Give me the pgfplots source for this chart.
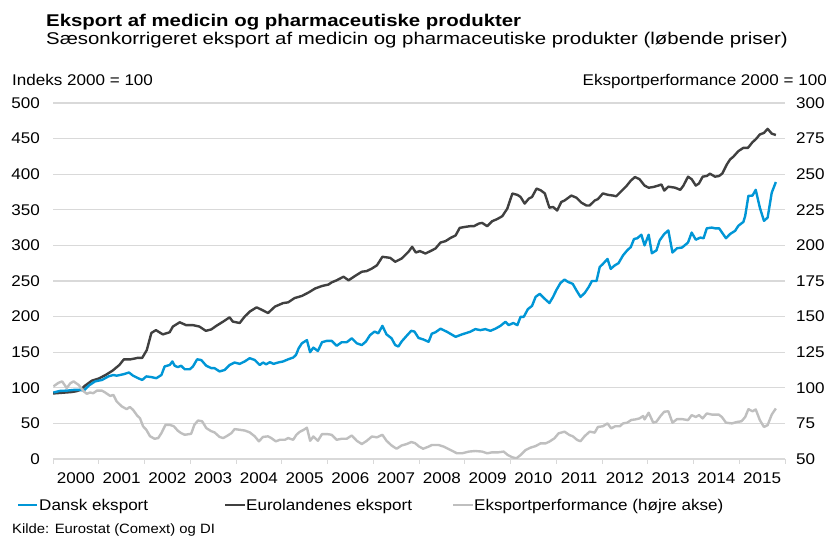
\documentclass[border=0pt]{standalone}
\usepackage{fontspec}
\setmainfont{Liberation Sans}[FakeStretch=1.1]
\newfontfamily\widefont{Liberation Sans}[FakeStretch=1.2]
\usepackage{pgfplots}
\pgfplotsset{compat=1.18}

\definecolor{dkblue}{RGB}{0,150,214}
\definecolor{dkblack}{RGB}{64,64,64}
\definecolor{dkgray}{RGB}{191,191,191}
\definecolor{gridc}{RGB}{217,217,217}

\newcommand{\tickfont}{\fontsize{15.5}{17}\selectfont}

\begin{document}
\begin{tikzpicture}[x=1pt,y=1pt]
\path[use as bounding box] (0,0) rectangle (830,537);

% titles
\node[anchor=base west,inner sep=0pt,font=\widefont\fontsize{17}{20}\selectfont\bfseries] at (46,510) {Eksport af medicin og pharmaceutiske produkter};
\node[anchor=base west,inner sep=0pt,font=\widefont\fontsize{17}{20}\selectfont] at (46,492.7) {Sæsonkorrigeret eksport af medicin og pharmaceutiske produkter (løbende priser)};
\node[anchor=base west,inner sep=0pt,font=\tickfont] at (12,451) {Indeks 2000 = 100};
\node[anchor=base east,inner sep=0pt,font=\tickfont] at (827,451) {Eksportperformance 2000 = 100};

\begin{axis}[
    at={(53pt,78pt)}, anchor=south west,
    width=732pt, height=356pt, scale only axis,
    xmin=2000, xmax=2016, ymin=0, ymax=500,
    ytick={0,50,...,500},
    xtick={2000.5,2001.5,2002.5,2003.5,2004.5,2005.5,2006.5,2007.5,2008.5,2009.5,2010.5,2011.5,2012.5,2013.5,2014.5,2015.5},
    xticklabels={2000,2001,2002,2003,2004,2005,2006,2007,2008,2009,2010,2011,2012,2013,2014,2015},
    minor xtick={2000,2001,...,2016},
    axis x line*=bottom, axis y line*=left,
    x axis line style={-,draw=gridc,line width=1.2pt},
    y axis line style={draw=none},
    major tick length=0pt, minor tick length=5pt, tick align=outside,
    minor tick style={draw=gridc,line width=1pt},
    ymajorgrids, major grid style={draw=gridc,line width=1.2pt},
    /pgf/number format/assume math mode=true,
    ticklabel style={font=\tickfont,inner sep=0pt},
    yticklabel style={anchor=east,xshift=-13pt},
    xticklabel style={anchor=north,yshift=-13pt},
    line join=round,
]
\addplot[dkblack,line width=2.4pt] coordinates {
(2000.00,92) (2000.20,93) (2000.40,94) (2000.50,95) (2000.60,97) (2000.70,103) (2000.85,110)
(2001.00,113) (2001.15,118) (2001.30,124) (2001.45,132) (2001.55,140) (2001.70,140) (2001.85,142) (2001.95,142)
(2002.05,153) (2002.15,177) (2002.25,181) (2002.40,175) (2002.55,178) (2002.62,186) (2002.77,192) (2002.91,188)
(2003.06,188) (2003.20,186) (2003.34,180) (2003.46,182) (2003.57,187) (2003.72,193) (2003.86,199) (2003.93,193)
(2004.08,191) (2004.19,200) (2004.30,207) (2004.45,213) (2004.58,209) (2004.70,205) (2004.85,214)
(2005.03,219) (2005.14,220) (2005.28,226) (2005.44,229) (2005.59,234) (2005.73,239.5) (2005.88,243)
(2006.02,245) (2006.09,248) (2006.20,251) (2006.35,256) (2006.46,251) (2006.60,257) (2006.75,263) (2006.86,264) (2006.97,267.5)
(2007.08,272) (2007.20,284) (2007.37,282.5) (2007.48,277) (2007.62,281.5) (2007.77,291) (2007.85,298) (2007.93,290)
(2008.02,292) (2008.14,288.6) (2008.25,292) (2008.36,295.6) (2008.47,304) (2008.58,306) (2008.69,310.5) (2008.80,314) (2008.89,324.6)
(2009.01,326) (2009.12,327) (2009.20,327) (2009.31,330.7) (2009.38,331.6) (2009.49,327) (2009.60,334) (2009.71,337) (2009.82,341) (2009.93,351.7)
(2010.04,372.8) (2010.15,371) (2010.22,368) (2010.31,358.7) (2010.40,365.7) (2010.47,368) (2010.57,379.8) (2010.66,377.4) (2010.75,373) (2010.85,353) (2010.93,354)
(2011.02,349) (2011.11,361) (2011.18,363) (2011.33,370) (2011.44,367) (2011.55,360) (2011.66,356) (2011.73,356) (2011.84,363) (2011.91,365)
(2012.02,373) (2012.13,371) (2012.24,370) (2012.31,369) (2012.42,376) (2012.53,383) (2012.63,391) (2012.72,396) (2012.82,393) (2012.93,384)
(2013.02,381) (2013.12,382) (2013.23,384) (2013.30,385.5) (2013.36,377) (2013.45,382.5) (2013.60,381) (2013.71,378) (2013.78,384) (2013.88,396.5) (2013.96,393)
(2014.05,384) (2014.12,387) (2014.20,396.5) (2014.29,397.5) (2014.36,400.7) (2014.47,396.5) (2014.56,397.5) (2014.63,401) (2014.73,413.8) (2014.80,420.8) (2014.87,424.5) (2014.98,432.4)
(2015.09,437) (2015.19,437) (2015.29,445) (2015.36,449) (2015.45,455.8) (2015.54,458) (2015.62,463.7) (2015.71,457) (2015.80,455)
};
\addplot[dkblue,line width=2.4pt] coordinates {
(2000.01,93.4) (2000.16,95.7) (2000.30,96) (2000.45,97) (2000.60,97) (2000.67,96) (2000.78,103) (2000.92,109)
(2001.07,111) (2001.21,116) (2001.32,118) (2001.39,117) (2001.54,119) (2001.66,121.5) (2001.75,117) (2001.86,113.5) (2001.95,111)
(2002.04,116) (2002.15,115) (2002.26,113.5) (2002.37,118) (2002.44,130) (2002.55,132) (2002.61,137) (2002.66,131) (2002.73,129) (2002.80,131) (2002.88,126) (2002.99,126)
(2003.06,130) (2003.15,140) (2003.24,139) (2003.35,131) (2003.46,127.6) (2003.53,127.6) (2003.64,123) (2003.75,125) (2003.86,132) (2003.97,135.5)
(2004.08,133.6) (2004.19,137) (2004.30,141.6) (2004.41,139) (2004.52,132) (2004.59,135.5) (2004.66,133) (2004.74,136) (2004.82,133.6) (2004.92,135.5)
(2005.03,137) (2005.14,140) (2005.25,142.5) (2005.31,146) (2005.37,155.5) (2005.44,162.5) (2005.55,167) (2005.62,150) (2005.69,156.4) (2005.79,151.7) (2005.88,164) (2005.99,166)
(2006.09,166) (2006.20,159) (2006.31,164) (2006.42,164) (2006.53,169.5) (2006.64,162.5) (2006.75,160) (2006.84,165) (2006.93,174)
(2007.03,179) (2007.11,176.5) (2007.20,187) (2007.29,175) (2007.40,169.5) (2007.48,160) (2007.55,158) (2007.62,165) (2007.73,173) (2007.83,180) (2007.90,179) (2007.99,170)
(2008.09,168) (2008.21,164.6) (2008.28,176) (2008.36,178) (2008.47,183) (2008.61,178.7) (2008.80,171.6) (2008.94,175)
(2009.12,178.7) (2009.23,182.4) (2009.34,181) (2009.45,182.4) (2009.56,180) (2009.67,183) (2009.78,187) (2009.89,192.7) (2009.96,188)
(2010.06,191) (2010.15,188) (2010.22,199.7) (2010.29,199.7) (2010.38,210.5) (2010.47,215) (2010.55,227.8) (2010.64,232) (2010.73,226) (2010.85,219) (2010.93,227.6)
(2011.00,237) (2011.09,247) (2011.18,252) (2011.26,248.6) (2011.36,246) (2011.44,237) (2011.53,227.6) (2011.62,233) (2011.71,241.6) (2011.78,250) (2011.88,250) (2011.95,269.6)
(2012.02,274) (2012.12,281) (2012.19,267) (2012.28,272) (2012.36,275) (2012.46,286) (2012.55,293) (2012.63,297.7) (2012.70,309) (2012.77,310) (2012.86,315) (2012.93,300)
(2013.02,315) (2013.09,289) (2013.19,293) (2013.26,307) (2013.36,316) (2013.45,321) (2013.54,290) (2013.64,296) (2013.75,297) (2013.88,304) (2013.96,318)
(2014.05,308) (2014.15,311) (2014.22,310) (2014.29,324) (2014.40,325) (2014.47,324) (2014.56,324) (2014.71,310) (2014.80,316) (2014.91,320.5) (2014.98,327.5)
(2015.09,333) (2015.13,341.5) (2015.20,369.5) (2015.29,370) (2015.36,378) (2015.45,353) (2015.54,334.5) (2015.62,339) (2015.71,374) (2015.80,389)
};
\end{axis}

\begin{axis}[
    at={(53pt,78pt)}, anchor=south west,
    width=732pt, height=356pt, scale only axis,
    xmin=2000, xmax=2016, ymin=50, ymax=300,
    ytick={50,75,...,300},
    axis y line*=right, axis x line=none,
    y axis line style={draw=none},
    major tick length=0pt,
    /pgf/number format/assume math mode=true,
    ticklabel style={font=\tickfont,inner sep=0pt},
    yticklabel style={anchor=west,xshift=11pt},
    line join=round,
]
\addplot[dkgray,line width=2.4pt] coordinates {
(2000.01,101) (2000.12,103.5) (2000.20,104.5) (2000.30,99.8) (2000.38,103.2) (2000.45,104.5) (2000.56,102) (2000.67,97.5) (2000.74,95.8) (2000.81,96.7) (2000.88,96.2) (2000.96,98)
(2001.07,98) (2001.14,96.7) (2001.25,94.3) (2001.32,95) (2001.39,90.5) (2001.50,87) (2001.61,85) (2001.68,86.5) (2001.75,84.5) (2001.84,80.5) (2001.90,78.7) (2001.97,72.9)
(2002.04,70.5) (2002.12,66) (2002.22,64.2) (2002.30,64.7) (2002.37,68.2) (2002.46,74) (2002.55,74) (2002.64,73) (2002.73,69.8) (2002.80,68.2) (2002.88,67)
(2003.02,67.7) (2003.09,74) (2003.17,77) (2003.26,76.5) (2003.35,71.7) (2003.46,69.5) (2003.53,68.7) (2003.64,65.5) (2003.72,64.7) (2003.82,66.5) (2003.90,68.2) (2003.97,71)
(2004.08,70.5) (2004.19,70) (2004.30,68.7) (2004.41,65.9) (2004.50,62.4) (2004.59,65.5) (2004.70,65.9) (2004.77,64.7) (2004.87,62.4) (2004.96,63.5)
(2005.07,63.5) (2005.14,64.7) (2005.25,63.5) (2005.32,67) (2005.39,69) (2005.48,70.5) (2005.55,72) (2005.62,62.8) (2005.69,65.8) (2005.79,62.8) (2005.88,67.5) (2005.99,67.5)
(2006.09,67) (2006.20,63.5) (2006.31,64.2) (2006.42,64.2) (2006.53,66.5) (2006.64,62.8) (2006.75,60.5) (2006.86,62.8) (2006.97,65.8)
(2007.08,65.2) (2007.20,67) (2007.29,62.8) (2007.40,59.5) (2007.51,57.2) (2007.62,59.5) (2007.73,60.5) (2007.83,61.9) (2007.91,61.2)
(2008.00,58.8) (2008.09,57.2) (2008.21,58.7) (2008.28,59.8) (2008.43,59.8) (2008.54,58.7) (2008.69,56.3) (2008.83,54) (2008.94,54)
(2009.09,55.2) (2009.23,55.6) (2009.38,55.2) (2009.49,54) (2009.60,54.7) (2009.74,54.7) (2009.85,55.2) (2009.94,52.8)
(2010.04,51.2) (2010.13,50.5) (2010.22,52.8) (2010.33,56.3) (2010.44,58) (2010.55,59.1) (2010.66,61) (2010.77,61) (2010.85,62.2) (2010.96,64.5)
(2011.05,68) (2011.18,69.2) (2011.29,66.8) (2011.36,66) (2011.46,63.3) (2011.53,62.5) (2011.62,66) (2011.73,69.2) (2011.84,68.5) (2011.91,72.5)
(2012.02,73) (2012.12,75) (2012.20,71.5) (2012.29,73) (2012.39,73) (2012.46,75) (2012.55,75.5) (2012.64,77.4) (2012.73,77.8) (2012.82,78.5) (2012.90,80.2) (2012.93,77.8)
(2013.02,82.5) (2013.12,75.5) (2013.19,76.2) (2013.28,80.2) (2013.36,83.2) (2013.45,83.5) (2013.54,75.5) (2013.64,78) (2013.75,78) (2013.88,77.3) (2013.96,80.8)
(2014.05,79.5) (2014.12,80.8) (2014.20,78.5) (2014.29,82) (2014.40,81.2) (2014.55,81.2) (2014.62,79.5) (2014.71,75.5) (2014.84,75) (2014.95,76)
(2015.05,76.5) (2015.13,79.5) (2015.20,85) (2015.29,83.5) (2015.36,84.8) (2015.45,77.3) (2015.54,72.5) (2015.62,73.8) (2015.71,81.2) (2015.80,85.5)
};
\end{axis}

% legend
\draw[dkblue,line width=2.4pt] (18,32) -- (37,32);
\node[anchor=base west,inner sep=0pt,font=\tickfont] at (39,26.5) {Dansk eksport};
\draw[dkblack,line width=2.4pt] (225,32) -- (245,32);
\node[anchor=base west,inner sep=0pt,font=\tickfont] at (246,26.5) {Eurolandenes eksport};
\draw[dkgray,line width=2.4pt] (453,32) -- (473,32);
\node[anchor=base west,inner sep=0pt,font=\tickfont] at (474,26.5) {Eksportperformance (højre akse)};
% source
\node[anchor=base west,inner sep=0pt,font=\fontsize{13.5}{15}\selectfont] at (12,3) {Kilde: Eurostat (Comext) og DI};
\end{tikzpicture}
\end{document}
